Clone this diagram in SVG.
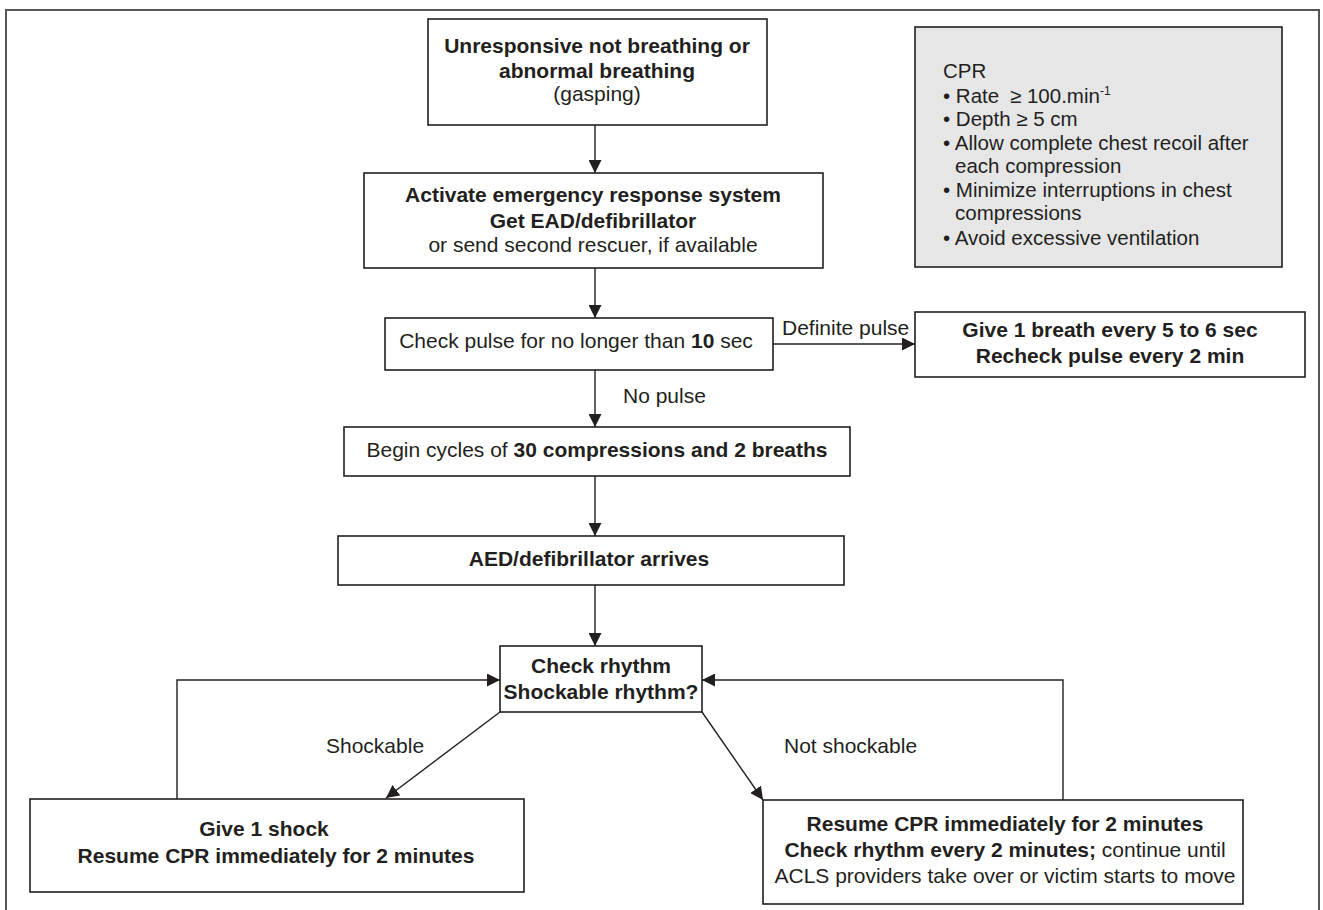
<svg xmlns="http://www.w3.org/2000/svg" width="1323" height="910" viewBox="0 0 1323 910">
<defs>
<marker id="ah" viewBox="0 0 12 12" refX="12" refY="6" markerWidth="13" markerHeight="13" markerUnits="userSpaceOnUse" orient="auto"><path d="M0,0 L12,6 L0,12 z" fill="#231f20"/></marker>
<style>
.box{fill:#fff;stroke:#231f20;stroke-width:1.6}
.gray{fill:#e6e6e7;stroke:#231f20;stroke-width:1.6}
.t{font-family:"Liberation Sans",Arial,sans-serif;font-size:21px;fill:#231f20}
.c{text-anchor:middle}
.b{font-weight:bold}
.s{font-size:20.5px}
.ln{fill:none;stroke:#231f20;stroke-width:1.4}
</style>
</defs>
<rect width="1323" height="910" fill="#fff"/>
<path d="M6,915 V10 H1319 V915" fill="none" stroke="#555" stroke-width="2"/>

<g id="n-unresponsive">
<rect class="box" x="428" y="19" width="339" height="106"/>
<text class="t c b" x="597" y="53">Unresponsive not breathing or</text>
<text class="t c b" x="597" y="78">abnormal breathing</text>
<text class="t c" x="597" y="101">(gasping)</text>
</g>

<g id="n-activate">
<rect class="box" x="364" y="173" width="459" height="95"/>
<text class="t c b" x="593" y="202">Activate emergency response system</text>
<text class="t c b" x="593" y="228">Get EAD/defibrillator</text>
<text class="t c" x="593" y="252">or send second rescuer, if available</text>
</g>

<g id="n-cpr-info">
<rect class="gray" x="915" y="27" width="367" height="240"/>
<text class="t s" x="943" y="78">CPR</text>
<text class="t s" x="943" y="103">• Rate<tspan x="1010">≥ 100.min</tspan><tspan font-size="12" dy="-8">-1</tspan></text>
<text class="t s" x="943" y="126">• Depth ≥ 5 cm</text>
<text class="t s" x="943" y="150">• Allow complete chest recoil after</text>
<text class="t s" x="955" y="173">each compression</text>
<text class="t s" x="943" y="197">• Minimize interruptions in chest</text>
<text class="t s" x="955" y="220">compressions</text>
<text class="t s" x="943" y="245">• Avoid excessive ventilation</text>
</g>

<g id="n-check-pulse">
<rect class="box" x="385" y="318" width="388" height="52"/>
<text class="t c" x="576" y="348">Check pulse for no longer than <tspan class="b">10</tspan> sec</text>
</g>

<g id="n-breath">
<rect class="box" x="915" y="312" width="390" height="65"/>
<text class="t c b" x="1110" y="337">Give 1 breath every 5 to 6 sec</text>
<text class="t c b" x="1110" y="363">Recheck pulse every 2 min</text>
</g>

<g id="n-begin">
<rect class="box" x="344" y="427" width="506" height="49"/>
<text class="t c" x="597" y="457">Begin cycles of <tspan class="b">30 compressions and 2 breaths</tspan></text>
</g>

<g id="n-aed">
<rect class="box" x="338" y="536" width="506" height="49"/>
<text class="t c b" x="589" y="566">AED/defibrillator arrives</text>
</g>

<g id="n-rhythm">
<rect class="box" x="500" y="646" width="202" height="66"/>
<text class="t c b" x="601" y="673">Check rhythm</text>
<text class="t c b" x="601" y="699">Shockable rhythm?</text>
</g>

<g id="n-shock">
<rect class="box" x="30" y="799" width="494" height="93"/>
<text class="t c b" x="264" y="836">Give 1 shock</text>
<text class="t c b" x="276" y="863">Resume CPR immediately for 2 minutes</text>
</g>

<g id="n-resume">
<rect class="box" x="763" y="800" width="480" height="104"/>
<text class="t c b" x="1005" y="831">Resume CPR immediately for 2 minutes</text>
<text class="t c" x="1005" y="857"><tspan class="b">Check rhythm every 2 minutes;</tspan> continue until</text>
<text class="t c" x="1005" y="883">ACLS providers take over or victim starts to move</text>
</g>

<g id="connectors">
<path class="ln" d="M595,125 V173" marker-end="url(#ah)"/>
<path class="ln" d="M595,268 V318" marker-end="url(#ah)"/>
<path class="ln" d="M773,344 H915" marker-end="url(#ah)"/>
<path class="ln" d="M595,370 V427" marker-end="url(#ah)"/>
<path class="ln" d="M595,476 V536" marker-end="url(#ah)"/>
<path class="ln" d="M595,585 V646" marker-end="url(#ah)"/>
<path class="ln" d="M177,799 V680 H500" marker-end="url(#ah)"/>
<path class="ln" d="M1063,800 V680 H702" marker-end="url(#ah)"/>
<path class="ln" d="M500,712 L386,798" marker-end="url(#ah)"/>
<path class="ln" d="M702,712 L763,800" marker-end="url(#ah)"/>
<text class="t" x="782" y="335">Definite pulse</text>
<text class="t" x="623" y="403">No pulse</text>
<text class="t" x="326" y="753">Shockable</text>
<text class="t" x="784" y="753">Not shockable</text>
</g>
</svg>
